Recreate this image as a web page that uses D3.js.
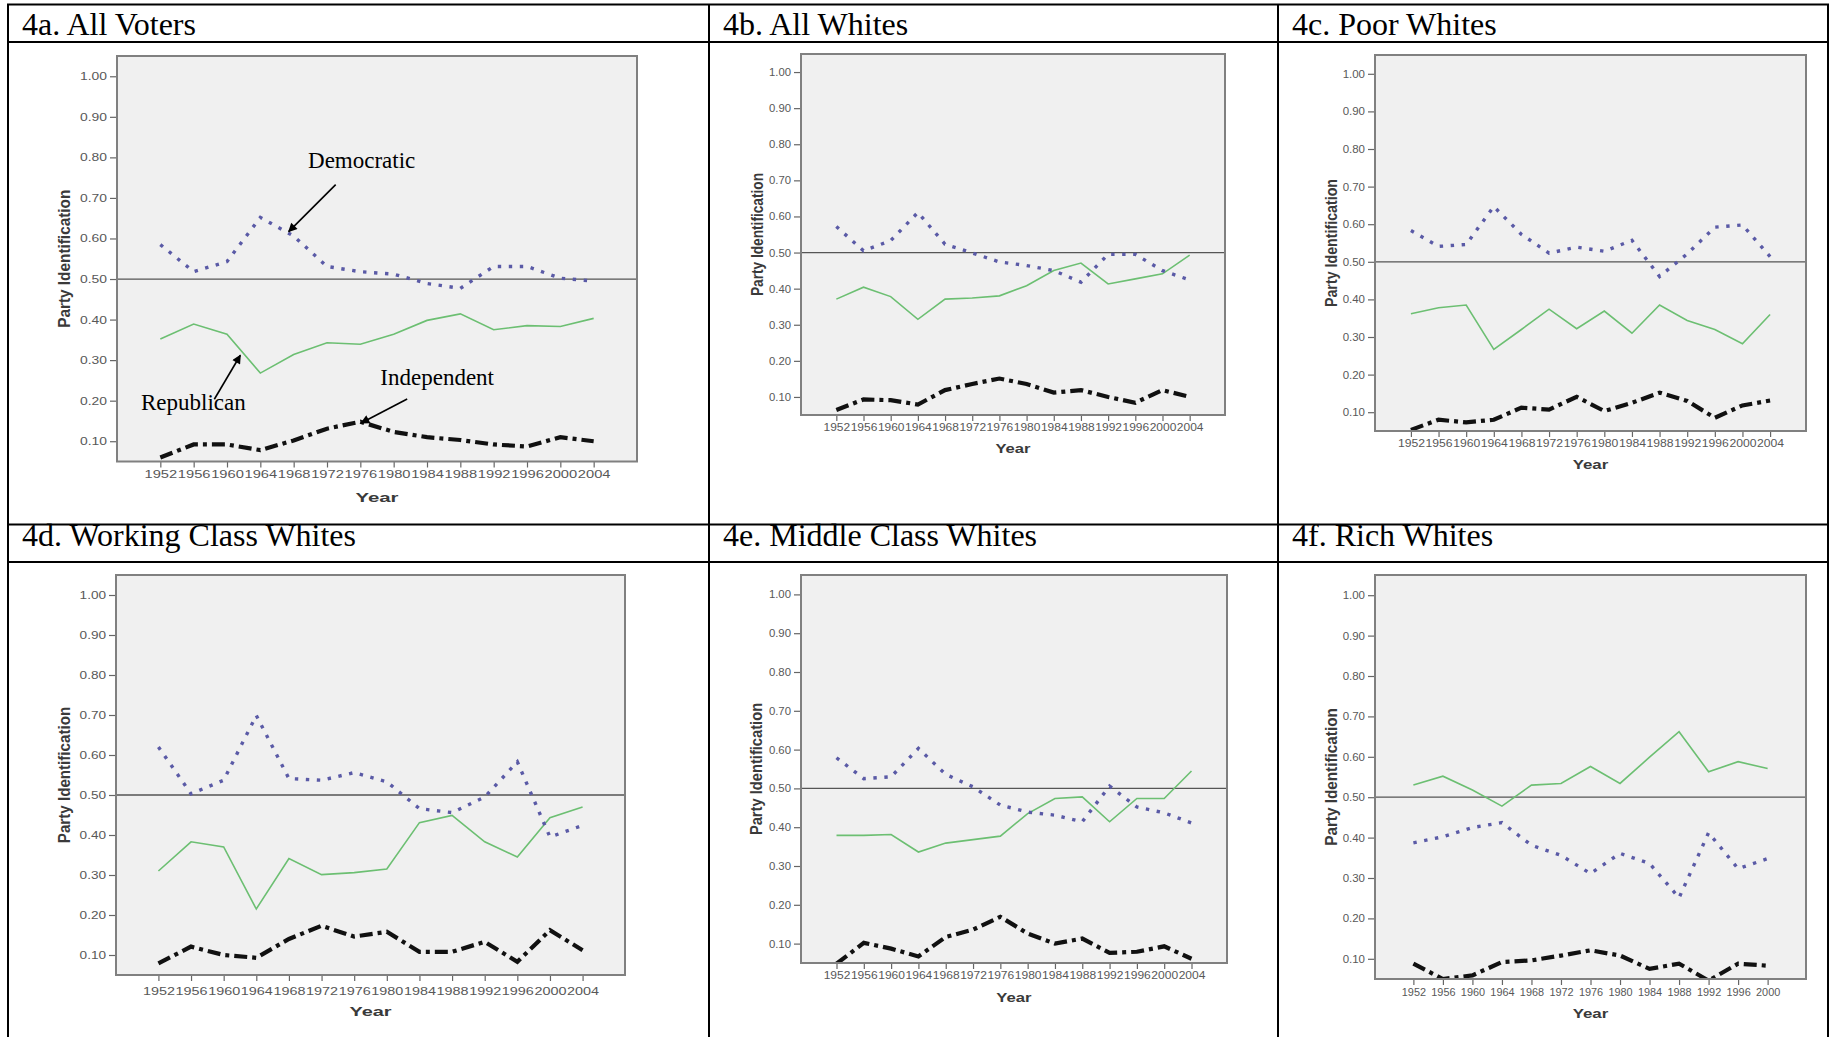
<!DOCTYPE html>
<html lang="en">
<head>
<meta charset="UTF-8">
<title>Party Identification by Class</title>
<script src="https://cdn.jsdelivr.net/npm/d3@7/dist/d3.min.js"></script>
<style>
  body { margin: 0; background: #fff; }
</style>
</head>
<body>
<script>

// ---- data ----
var years = [1952,1956,1960,1964,1968,1972,1976,1980,1984,1988,1992,1996,2000,2004];
var yearsRich = [1952,1956,1960,1964,1968,1972,1976,1980,1984,1988,1992,1996,2000];
var yTicks = [0.10,0.20,0.30,0.40,0.50,0.60,0.70,0.80,0.90,1.00];
var panelTitles = ["4a. All Voters","4b. All Whites","4c. Poor Whites",
                   "4d. Working Class Whites","4e. Middle Class Whites","4f. Rich Whites"];

var demAll  = [0.585,0.518,0.543,0.652,0.606,0.531,0.518,0.512,0.489,0.477,0.531,0.531,0.502,0.495];
var repAll  = [0.352,0.389,0.364,0.268,0.314,0.343,0.339,0.364,0.398,0.414,0.375,0.385,0.383,0.403];
var indAll  = [0.060,0.092,0.092,0.078,0.102,0.131,0.148,0.123,0.110,0.103,0.092,0.087,0.110,0.100];

var demWhite = [0.572,0.505,0.533,0.611,0.523,0.499,0.474,0.464,0.450,0.418,0.495,0.495,0.450,0.424];
var repWhite = [0.371,0.404,0.378,0.315,0.371,0.374,0.380,0.408,0.450,0.471,0.413,0.427,0.441,0.493];
var indWhite = [0.064,0.093,0.091,0.079,0.119,0.136,0.151,0.136,0.112,0.119,0.100,0.084,0.119,0.100];

var demPoor = [0.583,0.541,0.546,0.647,0.573,0.523,0.539,0.528,0.557,0.461,0.521,0.592,0.598,0.514];
var repPoor = [0.362,0.378,0.385,0.267,0.320,0.374,0.322,0.369,0.310,0.385,0.344,0.320,0.282,0.360];
var indPoor = [0.053,0.080,0.073,0.080,0.112,0.107,0.141,0.103,0.125,0.152,0.130,0.085,0.118,0.131];

var demWork = [0.620,0.503,0.537,0.699,0.541,0.537,0.556,0.533,0.466,0.456,0.495,0.583,0.395,0.424];
var repWork = [0.310,0.383,0.370,0.215,0.341,0.301,0.306,0.315,0.431,0.449,0.383,0.345,0.443,0.470];
var indWork = [0.079,0.121,0.100,0.093,0.140,0.173,0.146,0.158,0.108,0.108,0.133,0.083,0.162,0.112];

var demMid = [0.579,0.525,0.530,0.603,0.536,0.504,0.457,0.439,0.431,0.414,0.506,0.452,0.437,0.411];
var repMid = [0.379,0.379,0.381,0.336,0.359,0.368,0.377,0.435,0.474,0.478,0.414,0.474,0.474,0.545];
var indMid = [0.048,0.102,0.087,0.067,0.117,0.136,0.169,0.126,0.100,0.113,0.076,0.079,0.093,0.061];

var demRich = [0.387,0.402,0.425,0.437,0.381,0.356,0.311,0.361,0.336,0.251,0.412,0.323,0.348];
var repRich = [0.530,0.552,0.518,0.478,0.530,0.534,0.576,0.534,0.599,0.662,0.563,0.588,0.571];
var indRich = [0.088,0.050,0.059,0.092,0.096,0.108,0.121,0.108,0.075,0.088,0.046,0.088,0.083];

// ---- layout ----
var W = 1830, H = 1037;
var colX = [8, 709, 1278, 1828];
var rowY = [4.5, 42, 524.5, 562];

var panels = [
  {years: years,     dem: demAll,   rep: repAll,   ind: indAll,   box: [117, 56, 637, 461.5],  tickY: 474, yearY: 497, labX: 64,   labelFit: 0.98},
  {years: years,     dem: demWhite, rep: repWhite, ind: indWhite, box: [801, 54, 1225, 415],   tickY: 427, yearY: 448, labX: 757,  labelFit: 0.98},
  {years: years,     dem: demPoor,  rep: repPoor,  ind: indPoor,  box: [1375, 55, 1806, 431],  tickY: 443, yearY: 464, labX: 1331, labelFit: 0.98},
  {years: years,     dem: demWork,  rep: repWork,  ind: indWork,  box: [116, 575, 625, 975],   tickY: 991, yearY: 1011, labX: 64,  labelFit: 0.98},
  {years: years,     dem: demMid,   rep: repMid,   ind: indMid,   box: [801, 575, 1227, 963],  tickY: 975, yearY: 997, labX: 756,  labelFit: 0.98},
  {years: yearsRich, dem: demRich,  rep: repRich,  ind: indRich,  box: [1375, 575, 1806, 979], tickY: 992, yearY: 1013, labX: 1331, labelFit: 0.82}
];

var svg = d3.select("body").append("svg")
    .attr("width", W)
    .attr("height", H)
    .style("font-family", "'Liberation Sans', Arial, sans-serif");

var defs = svg.append("defs");
defs.append("marker")
    .attr("id", "arrow")
    .attr("viewBox", "0 0 10 10")
    .attr("refX", 9).attr("refY", 5)
    .attr("markerWidth", 10).attr("markerHeight", 9)
    .attr("markerUnits", "userSpaceOnUse")
    .attr("orient", "auto")
    .append("path")
    .attr("d", "M0,0 L10,5 L0,10 Z")
    .attr("fill", "#000");

// ---- panels ----
panels.forEach(function (p, i) {
    var x0 = p.box[0], y0 = p.box[1], x1 = p.box[2], y1 = p.box[3];
    var k = (x1 - x0) / 520;      // horizontal size relative to 4a
    var kv = (y1 - y0) / 405;     // vertical size relative to 4a

    var x = d3.scalePoint().domain(p.years).range([x0, x1]).padding(1.3);
    var y = d3.scaleLinear().domain([0.05, 1.05]).range([y1, y0]);

    var g = svg.append("g");

    g.append("rect")
        .attr("x", x0).attr("y", y0)
        .attr("width", x1 - x0).attr("height", y1 - y0)
        .attr("fill", "#f0f0f0");

    defs.append("clipPath").attr("id", "clip" + i)
        .append("rect")
        .attr("x", x0).attr("y", y0 - 2)
        .attr("width", x1 - x0).attr("height", y1 - y0 + 2);

    // axes
    var ax = g.append("g")
        .attr("transform", "translate(" + x0 + ",0)")
        .call(d3.axisLeft(y).tickValues(yTicks).tickFormat(d3.format(".2f")).tickSize(7).tickPadding(3));
    var bx = g.append("g")
        .attr("transform", "translate(0," + y1 + ")")
        .call(d3.axisBottom(x).tickSize(6).tickPadding(3));
    [ax, bx].forEach(function (a) {
        a.select(".domain").remove();
        a.selectAll("line").attr("stroke", "#666").attr("stroke-width", 1.2);
        a.selectAll("text")
            .attr("fill", "#585858")
            .style("font-size", "10px")
            .attr("lengthAdjust", "spacingAndGlyphs");
    });
    ax.selectAll("text").attr("textLength", 27 * k).attr("dy", "0.35em");
    bx.selectAll("text")
        .attr("textLength", x.step() * p.labelFit)
        .attr("y", p.tickY - y1)
        .attr("dy", "0.35em");

    // axis titles
    g.append("text")
        .attr("x", (x0 + x1) / 2)
        .attr("y", p.yearY)
        .attr("dy", "0.35em")
        .attr("text-anchor", "middle")
        .attr("fill", "#3a3a3a")
        .style("font-size", "13px")
        .style("font-weight", "bold")
        .attr("textLength", 43 * k)
        .attr("lengthAdjust", "spacingAndGlyphs")
        .text("Year");

    g.append("text")
        .attr("transform", "translate(" + p.labX + "," + ((y0 + y1) / 2) + ") rotate(-90) scale(1,1.3)")
        .attr("dy", "0.35em")
        .attr("text-anchor", "middle")
        .attr("fill", "#3a3a3a")
        .style("font-size", "12.5px")
        .style("font-weight", "bold")
        .attr("textLength", 138 * kv)
        .attr("lengthAdjust", "spacingAndGlyphs")
        .text("Party Identification");

    // reference line at 0.50
    g.append("line")
        .attr("x1", x0).attr("x2", x1)
        .attr("y1", y(0.5)).attr("y2", y(0.5))
        .attr("stroke", "#555").attr("stroke-width", 1.3);

    var line = d3.line()
        .x(function (d, j) { return x(p.years[j]); })
        .y(function (d) { return y(d); });

    var lines = g.append("g").attr("clip-path", "url(#clip" + i + ")");

    lines.append("path")
        .datum(p.rep)
        .attr("d", line)
        .attr("fill", "none")
        .attr("stroke", "#6cbf72")
        .attr("stroke-width", 1.6);

    lines.append("path")
        .datum(p.dem)
        .attr("d", line)
        .attr("fill", "none")
        .attr("stroke", "#5a5aa6")
        .attr("stroke-width", 3.4)
        .attr("stroke-dasharray", "3.4,7.6");

    lines.append("path")
        .datum(p.ind)
        .attr("d", line)
        .attr("fill", "none")
        .attr("stroke", "#111")
        .attr("stroke-width", 4.2)
        .attr("stroke-dasharray", "13,5,4,5");

    // frame
    g.append("rect")
        .attr("x", x0).attr("y", y0)
        .attr("width", x1 - x0).attr("height", y1 - y0)
        .attr("fill", "none")
        .attr("stroke", "#808080")
        .attr("stroke-width", 2);

    // annotations for 4a
    if (i === 0) {
        var xAt = function (yr) { return x(1952) + (yr - 1952) / 4 * x.step(); };
        var notes = [
            {text: "Democratic",  yr: 1967.4, v: 0.617, tail: [47, -47], lab: [73, -64]},
            {text: "Republican",  yr: 1961.6, v: 0.312, tail: [-26, 44], lab: [-47, 55]},
            {text: "Independent", yr: 1976.1, v: 0.145, tail: [46, -24], lab: [76, -38]}
        ];
        notes.forEach(function (n) {
            var tx = xAt(n.yr), ty = y(n.v);
            g.append("line")
                .attr("x1", tx + n.tail[0]).attr("y1", ty + n.tail[1])
                .attr("x2", tx).attr("y2", ty)
                .attr("stroke", "#000").attr("stroke-width", 1.6)
                .attr("marker-end", "url(#arrow)");
            g.append("text")
                .attr("x", tx + n.lab[0]).attr("y", ty + n.lab[1])
                .attr("text-anchor", "middle")
                .style("font-family", "'Liberation Serif', 'Times New Roman', serif")
                .style("font-size", "23px")
                .attr("fill", "#000")
                .text(n.text);
        });
    }
});

// ---- table grid and headers ----
var grid = svg.append("g").attr("stroke", "#000").attr("stroke-width", 2);
rowY.forEach(function (ry) {
    grid.append("line").attr("x1", colX[0] - 1).attr("x2", colX[3] + 1).attr("y1", ry).attr("y2", ry);
});
colX.forEach(function (cx) {
    grid.append("line").attr("x1", cx).attr("x2", cx).attr("y1", rowY[0]).attr("y2", H);
});

svg.selectAll("text.hdr")
    .data(panelTitles)
    .enter()
    .append("text")
    .attr("class", "hdr")
    .attr("x", function (d, i) { return colX[i % 3] + 14; })
    .attr("y", function (d, i) { return i < 3 ? 35 : 546; })
    .style("font-family", "'Liberation Serif', 'Times New Roman', serif")
    .style("font-size", "32px")
    .attr("fill", "#000")
    .text(function (d) { return d; });

</script>
</body>
</html>
